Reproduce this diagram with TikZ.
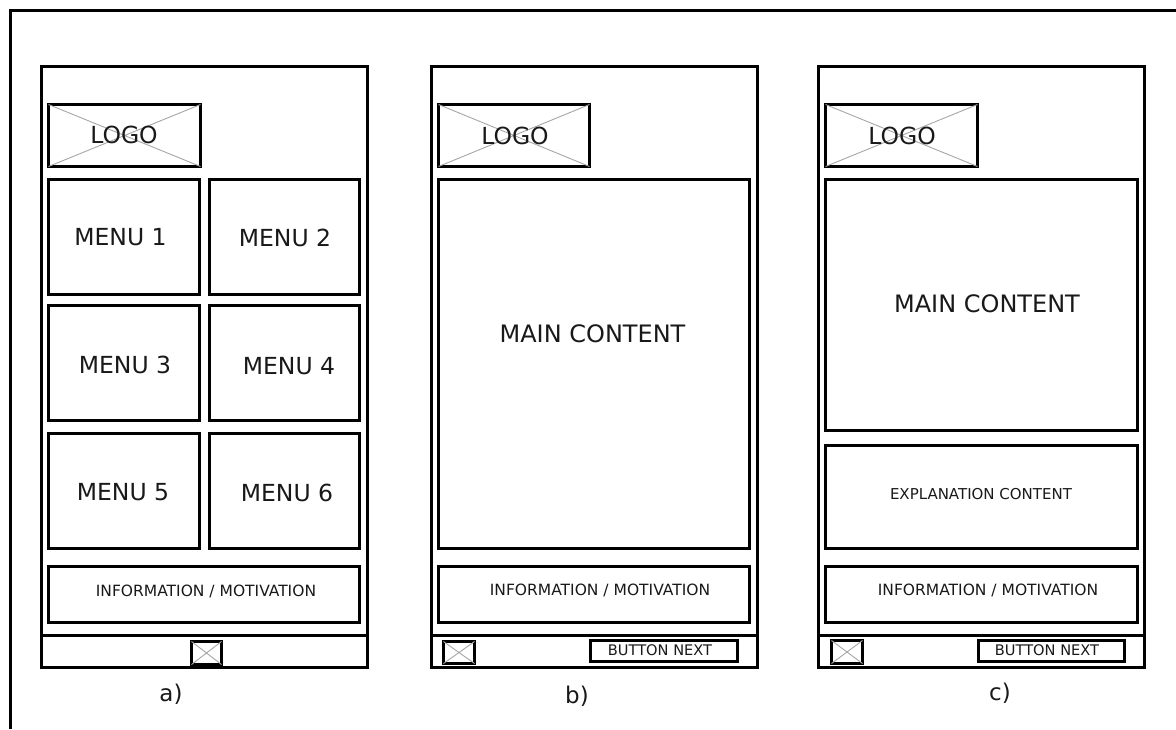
\documentclass[tikz,border=0pt]{standalone}
\usepackage{fontspec}
\setmainfont{DejaVu Sans}
\tikzset{
  frameline/.style={line width=3.05pt,black},
  box/.style={draw=black,line width=3.05pt,rectangle,inner sep=0pt,outer sep=0pt},
  slim/.style={draw=black,line width=3.05pt,rectangle,inner sep=0pt,outer sep=0pt},
  rule/.style={line width=3.05pt,black},
  cross/.style={draw=black!35,line width=0.9pt},
  bigtext/.style={font=\fontsize{23.5}{26}\selectfont,text=black!90,inner sep=0pt},
  maintext/.style={font=\fontsize{24}{26}\selectfont,text=black!90,inner sep=0pt},
  midtext/.style={font=\fontsize{15.5}{18}\selectfont,text=black!90,inner sep=0pt},
  btntext/.style={font=\fontsize{14.6}{17}\selectfont,text=black!90,inner sep=0pt},
  smalltext/.style={font=\fontsize{15}{18}\selectfont,text=black!90,inner sep=0pt},
  captext/.style={font=\fontsize{23}{26}\selectfont,text=black!90,inner sep=0pt}
}
% name, x1, y1, x2, y2, style  (edges sit on half pixels so that lines render 3px wide)
\newcommand{\bx}[6]{\node[#6,minimum width={(#4-#2)*1pt},minimum height={(#5-#3)*1pt}] (#1) at ({(#2+#4)/2+0.5},{(#3+#5)/2+0.5}) {};}
\newcommand{\xbox}[1]{\draw[cross] (#1.north west) -- (#1.south east) (#1.north east) -- (#1.south west);}
\begin{document}
\begin{tikzpicture}[x=1pt,y=-1pt]
\useasboundingbox (0,0) rectangle (1176,729);
\coordinate (fa) at (10.5,729);
\coordinate (fb) at (10.5,10.5);
\coordinate (fc) at (1176,10.5);
\draw[frameline,line join=miter] (fa) -- (fb) -- (fc);

% phone a
\bx{pa}{41}{66}{367}{667}{box}
\coordinate (pal) at (41.5,635.5); \coordinate (par) at (367.5,635.5);
\draw[rule] (pal) -- (par);
\bx{la}{48}{104}{200}{166}{box}
\xbox{la}
\node[bigtext] at (124,135) {LOGO};
\bx{m1}{48}{179}{199}{294}{box}
\bx{m2}{209}{179}{359}{294}{box}
\bx{m3}{48}{305}{199}{420}{box}
\bx{m4}{209}{305}{359}{420}{box}
\bx{m5}{48}{433}{199}{548}{box}
\bx{m6}{209}{433}{359}{548}{box}
\node[bigtext] at (120.5,237) {MENU 1};
\node[bigtext] at (285,238) {MENU 2};
\node[bigtext] at (125,365) {MENU 3};
\node[bigtext] at (289,366) {MENU 4};
\node[bigtext] at (123,492) {MENU 5};
\node[bigtext] at (287,493) {MENU 6};
\bx{ia}{48}{566}{359}{622}{box}
\node[midtext] at (206,591) {INFORMATION / MOTIVATION};
\bx{ica}{191}{641}{221}{664}{box}
\xbox{ica}
\node[captext] at (171,694) {a)};

% phone b
\bx{pb}{431}{66}{757}{667}{box}
\coordinate (pbl) at (431.5,635.5); \coordinate (pbr) at (757.5,635.5);
\draw[rule] (pbl) -- (pbr);
\bx{lb}{438}{104}{589}{166}{box}
\xbox{lb}
\node[bigtext] at (515,135.5) {LOGO};
\bx{mb}{438}{179}{749}{548}{box}
\node[maintext] at (592.5,334) {MAIN CONTENT};
\bx{ib}{438}{566}{749}{622}{box}
\node[midtext] at (600,590.5) {INFORMATION / MOTIVATION};
\bx{icb}{443}{641}{474}{663}{box}
\xbox{icb}
\bx{bb}{590}{640}{737}{661}{slim}
\node[btntext] at (660,650) {BUTTON NEXT};
\node[captext] at (577,696) {b)};

% phone c
\bx{pc}{818}{66}{1144}{667}{box}
\coordinate (pcl) at (818.5,635.5); \coordinate (pcr) at (1144.5,635.5);
\draw[rule] (pcl) -- (pcr);
\bx{lc}{825}{104}{977}{166}{box}
\xbox{lc}
\node[bigtext] at (902,135.5) {LOGO};
\bx{mc}{825}{179}{1137}{430}{box}
\node[maintext] at (987,304) {MAIN CONTENT};
\bx{ec}{825}{445}{1137}{548}{box}
\node[smalltext] at (981,494) {EXPLANATION CONTENT};
\bx{ic}{825}{566}{1137}{622}{box}
\node[midtext] at (988,590) {INFORMATION / MOTIVATION};
\bx{icc}{831}{640}{862}{663}{box}
\xbox{icc}
\bx{bc}{978}{640}{1124}{661}{slim}
\node[btntext] at (1047,650) {BUTTON NEXT};
\node[captext] at (1000,693) {c)};
\end{tikzpicture}
\end{document}
